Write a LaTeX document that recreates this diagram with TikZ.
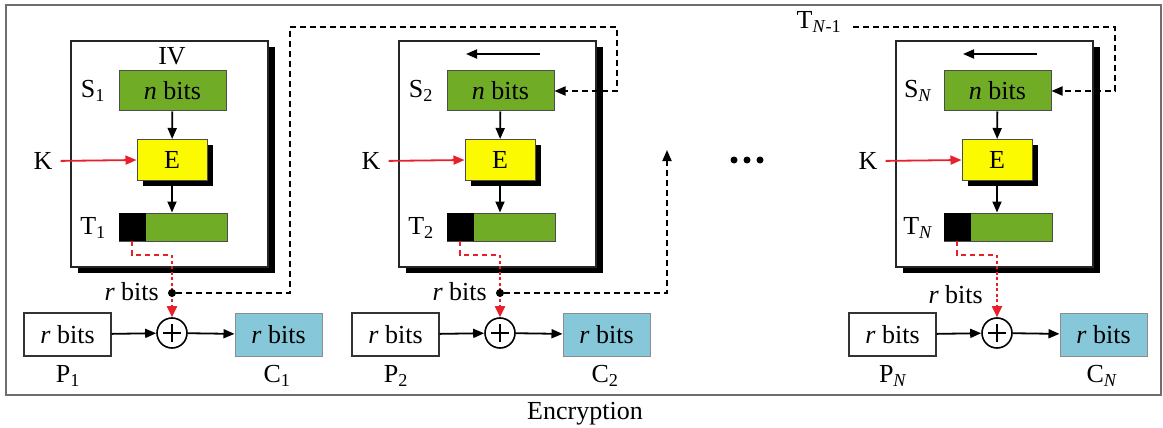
\documentclass[tikz,border=0pt]{standalone}
\usepackage{fontspec}
\setmainfont{Liberation Serif}
\usetikzlibrary{arrows.meta,shadows}
\definecolor{stategreen}{RGB}{112,172,38}
\definecolor{encyellow}{RGB}{252,250,0}
\definecolor{cipherblue}{RGB}{134,200,218}
\definecolor{keyred}{RGB}{232,32,44}
\definecolor{framegray}{RGB}{110,110,110}
\begin{document}
\begin{tikzpicture}[x=1pt,y=-1pt,
  font=\fontsize{26}{30}\selectfont,
  tip/.style={-{Triangle[length=11pt,width=9pt]}},
  arr/.style={tip, line width=1.8pt},
  keyarr/.style={arr, draw=keyred, shorten <=8pt},
  fbline/.style={line width=1.8pt, dash pattern=on 6pt off 4pt},
  fbarr/.style={fbline, tip},
  redjoin/.style={draw=keyred, line width=1.8pt, dash pattern=on 5pt off 4pt},
  reddrop/.style={draw=keyred, line width=1.8pt, dash pattern=on 3pt off 2.5pt,
                  -{Triangle[length=11pt,width=10pt]}},
  lbl/.style={inner sep=0pt},
  framebox/.style={draw=black!85, line width=1.6pt, fill=white,
                   minimum width=197pt, minimum height=226pt, inner sep=0pt,
                   drop shadow={shadow xshift=7pt, shadow yshift=-6pt, opacity=1, fill=black}},
  greenbox/.style={draw=black!70, line width=1pt, fill=stategreen, inner sep=0pt},
  ebox/.style={draw=black!70, line width=1pt, fill=encyellow, inner sep=0pt,
               minimum width=70pt, minimum height=41pt,
               drop shadow={shadow xshift=6pt, shadow yshift=-5pt, opacity=1, fill=black}},
  plainbox/.style={draw=black!80, line width=1.4pt, fill=white, inner sep=0pt,
                   minimum width=87pt, minimum height=43pt},
  cipherbox/.style={draw=black!45, line width=1pt, fill=cipherblue, inner sep=0pt,
                    minimum width=87pt, minimum height=43pt},
  xorsym/.style={circle, draw=black, line width=1.6pt, fill=white,
                 minimum size=30pt, inner sep=0pt},
  tapdot/.style={circle, fill=black, inner sep=0pt, minimum size=8pt}
]
\useasboundingbox (0,0) rectangle (1163,428);

% outer frame and caption
\draw[framegray, line width=1.6pt] (6,5) rectangle (1161,395);
\node[lbl] (cap) at (585,414) {Encryption};

% one CFB stage per offset
\foreach \o/\i/\s in {0/1/1, 328/2/2, 825/N/{\textit{N}}}{
  \node[framebox] (fr\i) at (\o+169.5,154) {};
  \node[greenbox, minimum width=107pt, minimum height=40pt] (S\i) at (\o+172.5,91) {\textit{n} bits};
  \node[lbl] (Sl\i) at (\o+93,91) {S\textsubscript{\s}};
  \node[ebox] (E\i) at (\o+172,160) {E};
  \node[lbl] (K\i) at (\o+43,161) {K};
  \node[greenbox, minimum width=108pt, minimum height=28pt] (T\i) at (\o+173,227) {};
  \node[fill=black, inner sep=0pt, minimum width=27pt, minimum height=28pt, anchor=west] (Tk\i) at (T\i.west) {};
  \node[lbl] (Tl\i) at (\o+93,228) {T\textsubscript{\s}};
  \node[xorsym] (X\i) at (\o+172,333) {};
  \draw[line width=1.6pt] ([xshift=-9pt]X\i.center) -- ([xshift=9pt]X\i.center)
                          ([yshift=-9pt]X\i.center) -- ([yshift=9pt]X\i.center);
  \node[plainbox] (P\i) at (\o+67.5,334.5) {\textit{r} bits};
  \node[cipherbox] (C\i) at (\o+278.5,334.5) {\textit{r} bits};
  \node[lbl] (Pl\i) at (\o+68,376) {P\textsubscript{\s}};
  \node[lbl] (Cl\i) at (\o+277,376) {C\textsubscript{\s}};
  \coordinate (rj\i) at (\o+172,255);

  \draw[arr] (S\i) -- (E\i);
  \draw[arr] (E\i.south -| X\i) -- (T\i.north -| X\i);
  \draw[keyarr] (K\i.east) -- (E\i.west);
  \draw[redjoin] (Tk\i.south) |- (rj\i);
  \draw[reddrop] (rj\i) -- (X\i.north);
  \draw[arr] (P\i) -- (X\i);
  \draw[arr] (X\i) -- (C\i);
}

% initial vector and shift arrows
\node[lbl] (iv) at (172,56) {IV};
\coordinate (sh2a) at (540,54); \coordinate (sh2b) at (466,54);
\coordinate (shNa) at (1037,54); \coordinate (shNb) at (963,54);
\draw[arr] (sh2a) -- (sh2b);
\draw[arr] (shNa) -- (shNb);

% r-bit taps
\node[tapdot] (tap1) at (172,293) {};
\node[tapdot] (tap2) at (500,293) {};
\node[lbl, anchor=east] (rb1) at (159,292) {\textit{r} bits};
\node[lbl, anchor=east] (rb2) at (487,292) {\textit{r} bits};
\node[lbl, anchor=east] (rbN) at (983,295) {\textit{r} bits};

% feedback from stage 1 into stage 2
\coordinate (f1a) at (290,293);
\coordinate (f1b) at (290,27);
\coordinate (f1c) at (617,27);
\coordinate (f1d) at (617,91);
\draw[fbarr] (tap1) -- (f1a) -- (f1b) -- (f1c) -- (f1d) -- (S2.east);

% feedback leaving stage 2
\coordinate (f2a) at (667,293);
\coordinate (f2b) at (667,150);
\draw[fbarr] (tap2) -- (f2a) -- (f2b);

% ellipsis between stages
\foreach \k/\xx in {1/734, 2/747, 3/760}{
  \node[circle, fill=black, inner sep=0pt, minimum size=7pt] (dot\k) at (\xx,160) {};
}

% feedback from the previous stage into stage N
\node[lbl] (tprev) at (819,22) {T\textsubscript{\textit{N}-1}};
\coordinate (fNa) at (1115,27);
\coordinate (fNb) at (1115,91);
\draw[fbarr] ([xshift=12pt]tprev.east |- fNa) -- (fNa) -- (fNb) -- (SN.east);
\end{tikzpicture}
\end{document}
